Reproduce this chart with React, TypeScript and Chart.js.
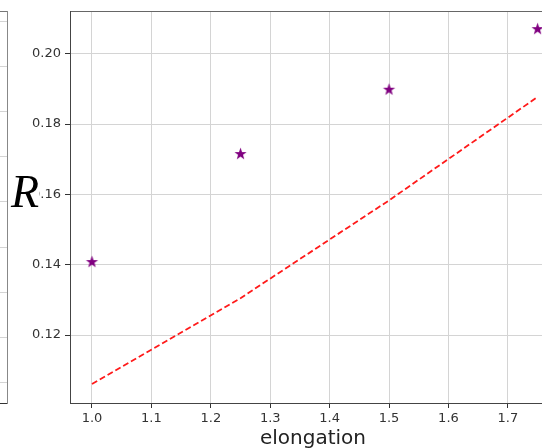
import React, { useEffect, useRef } from "react";
import { Chart, registerables } from "chart.js";

Chart.register(...registerables);

// ---- data ----
const ELONGATION = [1.0, 1.25, 1.5, 1.75];
const R_MEASURED = [0.1409, 0.1716, 0.1899, 0.2071];
const R_MODEL = [0.1061, 0.1305, 0.1583, 0.1877];

const X_TICKS = [1.0, 1.1, 1.2, 1.3, 1.4, 1.5, 1.6, 1.7];
const Y_TICKS = [0.12, 0.14, 0.16, 0.18, 0.2];
const X_MIN = 0.963;
const X_MAX = 1.781;
const Y_MIN = 0.1007;
const Y_MAX = 0.2119;

// neighbouring (cut-off) panel: only its grid is visible
const LEFT_PANEL_TICKS = [0, 1, 2, 3, 4, 5, 6, 7, 8];
const LEFT_PANEL_MIN = -0.442;
const LEFT_PANEL_MAX = 8.221;

const X_LABEL = "elongation";
const Y_LABEL = "R";

const FONT = '"DejaVu Sans", sans-serif';
const GRID = "#d4d4d4";
const AXIS = "#444";

function makeStar(color: string, outer: number, inner: number): HTMLCanvasElement {
  const size = Math.ceil(outer * 2) + 2;
  const c = document.createElement("canvas");
  c.width = size;
  c.height = size;
  const ctx = c.getContext("2d")!;
  const cx = size / 2;
  const cy = size / 2 + 0.5;
  ctx.beginPath();
  for (let i = 0; i < 10; i++) {
    const r = i % 2 === 0 ? outer : inner;
    const a = -Math.PI / 2 + (i * Math.PI) / 5;
    const px = cx + r * Math.cos(a);
    const py = cy + r * Math.sin(a);
    if (i === 0) ctx.moveTo(px, py);
    else ctx.lineTo(px, py);
  }
  ctx.closePath();
  ctx.fillStyle = color;
  ctx.fill();
  return c;
}

const MAIN_W = 570;
const H = 448;
const LEFT_W = 200;

export default function App() {
  const mainRef = useRef<HTMLCanvasElement>(null);
  const leftRef = useRef<HTMLCanvasElement>(null);

  useEffect(() => {
    const star = makeStar("#800080", 6.4, 2.6);

    const main = new Chart(mainRef.current!, {
      type: "scatter",
      data: {
        datasets: [
          {
            label: "model",
            data: ELONGATION.map((x, i) => ({ x, y: R_MODEL[i] })),
            showLine: true,
            borderColor: "#ff1a1a",
            borderWidth: 1.8,
            borderDash: [6, 3],
            pointRadius: 0,
            fill: false,
          },
          {
            label: "measured",
            data: ELONGATION.map((x, i) => ({ x, y: R_MEASURED[i] })),
            pointStyle: star as any,
            pointRadius: 7,
            backgroundColor: "#800080",
            borderColor: "#800080",
          },
        ],
      },
      options: {
        animation: false,
        responsive: false,
        layout: { padding: { left: 0, top: 11, right: MAIN_W - 556, bottom: 0 } },
        plugins: { legend: { display: false }, tooltip: { enabled: false } },
        scales: {
          x: {
            type: "linear",
            position: "bottom",
            min: X_MIN,
            max: X_MAX,
            afterBuildTicks: (s: any) => {
              s.ticks = X_TICKS.map((v) => ({ value: v }));
            },
            afterFit: (s: any) => {
              s.height = 45;
            },
            ticks: {
              callback: (v: any) => Number(v).toFixed(1),
              font: { family: FONT, size: 13 },
              color: "#333",
              padding: 3,
              maxRotation: 0,
              autoSkip: false,
            },
            grid: { color: GRID, lineWidth: 1, tickLength: 5, tickColor: "#333" },
            border: { color: AXIS, width: 1 },
            title: {
              display: true,
              text: X_LABEL,
              font: { family: FONT, size: 20 },
              color: "#222",
              padding: { top: 0, bottom: -3 },
            },
          },
          x2: {
            type: "linear",
            position: "top",
            min: X_MIN,
            max: X_MAX,
            ticks: { display: false },
            grid: { display: false, drawTicks: false },
            border: { display: true, color: "#666", width: 1 },
            afterFit: (s: any) => {
              s.height = 0;
            },
          },
          y: {
            type: "linear",
            position: "left",
            min: Y_MIN,
            max: Y_MAX,
            afterBuildTicks: (s: any) => {
              s.ticks = Y_TICKS.map((v) => ({ value: v }));
            },
            afterFit: (s: any) => {
              s.width = 70;
            },
            ticks: {
              callback: (v: any) => Number(v).toFixed(2),
              font: { family: FONT, size: 13 },
              color: "#333",
              padding: 4,
              autoSkip: false,
            },
            grid: { color: GRID, lineWidth: 1, tickLength: 5, tickColor: "#333" },
            border: { color: AXIS, width: 1 },
          },
        },
      },
    });

    const left = new Chart(leftRef.current!, {
      type: "scatter",
      data: { datasets: [{ data: [] }] },
      options: {
        animation: false,
        responsive: false,
        layout: { padding: { left: 0, top: 11, right: 1, bottom: H - 403 } },
        plugins: { legend: { display: false }, tooltip: { enabled: false } },
        scales: {
          x: {
            type: "linear",
            position: "bottom",
            display: true,
            min: 0,
            max: 1,
            ticks: { display: false },
            grid: { display: false, drawTicks: false },
            border: { display: true, color: "#333", width: 1 },
            afterFit: (s: any) => {
              s.height = 0;
            },
          },
          x2: {
            type: "linear",
            position: "top",
            display: true,
            min: 0,
            max: 1,
            ticks: { display: false },
            grid: { display: false, drawTicks: false },
            border: { display: true, color: "#777", width: 1 },
            afterFit: (s: any) => {
              s.height = 0;
            },
          },
          y: {
            type: "linear",
            position: "right",
            display: true,
            min: LEFT_PANEL_MIN,
            max: LEFT_PANEL_MAX,
            afterBuildTicks: (s: any) => {
              s.ticks = LEFT_PANEL_TICKS.map((v) => ({ value: v }));
            },
            ticks: { display: false },
            grid: { color: GRID, drawTicks: false },
            border: { display: true, color: "#888", width: 1 },
            afterFit: (s: any) => {
              s.width = 0;
            },
          },
        },
      },
    });

    return () => {
      main.destroy();
      left.destroy();
    };
  }, []);

  return (
    <div
      style={{
        position: "fixed",
        left: 0,
        top: 0,
        width: 542,
        height: H,
        overflow: "hidden",
        background: "#fff",
      }}
    >
      <canvas
        ref={leftRef}
        width={LEFT_W}
        height={H}
        style={{ position: "absolute", left: 8 - LEFT_W, top: 0, width: LEFT_W, height: H }}
      />
      <canvas
        ref={mainRef}
        width={MAIN_W}
        height={H}
        style={{ position: "absolute", left: 0, top: 0, width: MAIN_W, height: H }}
      />
      <span
        style={{
          position: "absolute",
          left: 11,
          top: 169,
          display: "inline-block",
          fontFamily: '"Liberation Serif", "DejaVu Serif", serif',
          fontStyle: "italic",
          fontSize: 46,
          lineHeight: "46px",
          background: "#fff",
          color: "#000",
        }}
      >
        {Y_LABEL}
      </span>
    </div>
  );
}
